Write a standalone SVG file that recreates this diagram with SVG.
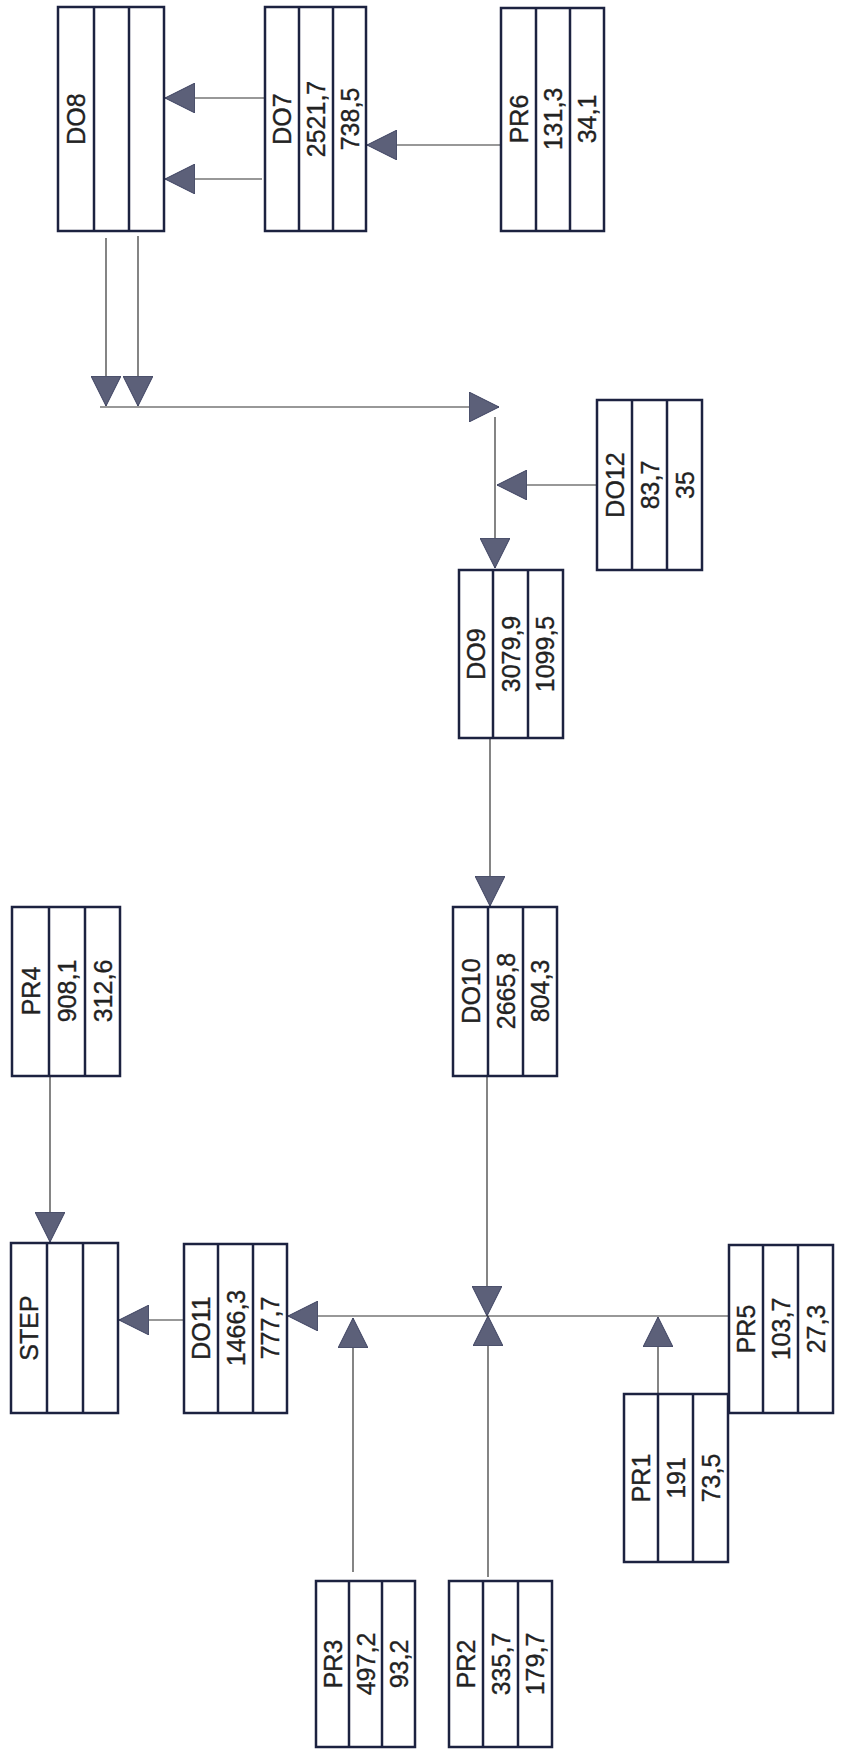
<svg xmlns="http://www.w3.org/2000/svg" width="842" height="1758" viewBox="0 0 842 1758">
<defs>
<marker id="ah" markerUnits="userSpaceOnUse" markerWidth="30" markerHeight="30" viewBox="0 0 30 30" refX="30" refY="15" orient="auto">
<path d="M0,0 L30,15 L0,30 Z" fill="#5c6079" stroke="#3d4260" stroke-width="1"/>
</marker>
</defs>
<style>
.box{fill:#fff;stroke:#1c2240;stroke-width:2.5}
.div{stroke:#1c2240;stroke-width:2.5}
.t{font-family:"Liberation Sans",Arial,sans-serif;font-size:25px;fill:#222;stroke:#222;stroke-width:0.35;text-anchor:middle}
.c{fill:none;stroke:#333;stroke-width:1.2;marker-end:url(#ah)}
</style>
<rect width="842" height="1758" fill="#fff"/>
<g id="connectors">
<line class="c" x1="265" y1="98" x2="165" y2="98"/>
<line class="c" x1="262" y1="179" x2="165" y2="179"/>
<line class="c" x1="501" y1="145" x2="367" y2="145"/>
<line class="c" x1="106" y1="238" x2="106" y2="406"/>
<line class="c" x1="138" y1="236" x2="138" y2="406"/>
<line class="c" x1="100" y1="407" x2="499" y2="407"/>
<line class="c" x1="495" y1="417" x2="495" y2="568"/>
<line class="c" x1="597" y1="485" x2="497" y2="485"/>
<line class="c" x1="490" y1="738" x2="490" y2="906"/>
<line class="c" x1="487" y1="1076" x2="487" y2="1316"/>
<line class="c" x1="488" y1="1577" x2="488" y2="1316"/>
<line class="c" x1="353" y1="1572" x2="353" y2="1318"/>
<line class="c" x1="658" y1="1394" x2="658" y2="1317"/>
<line class="c" x1="728" y1="1316" x2="288" y2="1316"/>
<line class="c" x1="184" y1="1320" x2="119" y2="1320"/>
<line class="c" x1="50" y1="1076" x2="50" y2="1242"/>
</g>
<g id="DO8">
<rect class="box" x="58" y="7" width="106" height="224"/>
<line class="div" x1="94" y1="7" x2="94" y2="231"/><line class="div" x1="129" y1="7" x2="129" y2="231"/>
<text class="t" transform="translate(85,119) rotate(-90)">DO8</text>
</g>
<g id="DO7">
<rect class="box" x="265" y="7" width="101" height="224"/>
<line class="div" x1="299" y1="7" x2="299" y2="231"/><line class="div" x1="333" y1="7" x2="333" y2="231"/>
<text class="t" transform="translate(291,119) rotate(-90)">DO7</text>
<text class="t" transform="translate(325,119) rotate(-90)">2521,7</text>
<text class="t" transform="translate(358.5,119) rotate(-90)">738,5</text>
</g>
<g id="PR6">
<rect class="box" x="501" y="8" width="103" height="223"/>
<line class="div" x1="536" y1="8" x2="536" y2="231"/><line class="div" x1="570" y1="8" x2="570" y2="231"/>
<text class="t" transform="translate(527.5,119) rotate(-90)">PR6</text>
<text class="t" transform="translate(562,119) rotate(-90)">131,3</text>
<text class="t" transform="translate(596,119) rotate(-90)">34,1</text>
</g>
<g id="DO12">
<rect class="box" x="597" y="400" width="105" height="170"/>
<line class="div" x1="632" y1="400" x2="632" y2="570"/><line class="div" x1="667" y1="400" x2="667" y2="570"/>
<text class="t" transform="translate(623.5,485) rotate(-90)">DO12</text>
<text class="t" transform="translate(658.5,485) rotate(-90)">83,7</text>
<text class="t" transform="translate(693.5,485) rotate(-90)">35</text>
</g>
<g id="DO9">
<rect class="box" x="459" y="570" width="104" height="168"/>
<line class="div" x1="493" y1="570" x2="493" y2="738"/><line class="div" x1="528" y1="570" x2="528" y2="738"/>
<text class="t" transform="translate(485,654) rotate(-90)">DO9</text>
<text class="t" transform="translate(519.5,654) rotate(-90)">3079,9</text>
<text class="t" transform="translate(554,654) rotate(-90)">1099,5</text>
</g>
<g id="DO10">
<rect class="box" x="453" y="907" width="104" height="169"/>
<line class="div" x1="488" y1="907" x2="488" y2="1076"/><line class="div" x1="523" y1="907" x2="523" y2="1076"/>
<text class="t" transform="translate(479.5,991) rotate(-90)">DO10</text>
<text class="t" transform="translate(514.5,991) rotate(-90)">2665,8</text>
<text class="t" transform="translate(549,991) rotate(-90)">804,3</text>
</g>
<g id="PR4">
<rect class="box" x="12" y="907" width="108" height="169"/>
<line class="div" x1="49" y1="907" x2="49" y2="1076"/><line class="div" x1="85" y1="907" x2="85" y2="1076"/>
<text class="t" transform="translate(39.5,991) rotate(-90)">PR4</text>
<text class="t" transform="translate(76,991) rotate(-90)">908,1</text>
<text class="t" transform="translate(111.5,991) rotate(-90)">312,6</text>
</g>
<g id="STEP">
<rect class="box" x="11" y="1243" width="107" height="170"/>
<line class="div" x1="47" y1="1243" x2="47" y2="1413"/><line class="div" x1="83" y1="1243" x2="83" y2="1413"/>
<text class="t" transform="translate(38,1328) rotate(-90)">STEP</text>
</g>
<g id="DO11">
<rect class="box" x="184" y="1244" width="103" height="169"/>
<line class="div" x1="218" y1="1244" x2="218" y2="1413"/><line class="div" x1="253" y1="1244" x2="253" y2="1413"/>
<text class="t" transform="translate(210,1328) rotate(-90)">DO11</text>
<text class="t" transform="translate(244.5,1328) rotate(-90)">1466,3</text>
<text class="t" transform="translate(279,1328) rotate(-90)">777,7</text>
</g>
<g id="PR5">
<rect class="box" x="729" y="1245" width="104" height="168"/>
<line class="div" x1="763" y1="1245" x2="763" y2="1413"/><line class="div" x1="798" y1="1245" x2="798" y2="1413"/>
<text class="t" transform="translate(755,1329) rotate(-90)">PR5</text>
<text class="t" transform="translate(789.5,1329) rotate(-90)">103,7</text>
<text class="t" transform="translate(824.5,1329) rotate(-90)">27,3</text>
</g>
<g id="PR1">
<rect class="box" x="624" y="1394" width="104" height="168"/>
<line class="div" x1="658" y1="1394" x2="658" y2="1562"/><line class="div" x1="693" y1="1394" x2="693" y2="1562"/>
<text class="t" transform="translate(650,1478) rotate(-90)">PR1</text>
<text class="t" transform="translate(684.5,1478) rotate(-90)">191</text>
<text class="t" transform="translate(719.5,1478) rotate(-90)">73,5</text>
</g>
<g id="PR3">
<rect class="box" x="316" y="1581" width="99" height="166"/>
<line class="div" x1="349" y1="1581" x2="349" y2="1747"/><line class="div" x1="382" y1="1581" x2="382" y2="1747"/>
<text class="t" transform="translate(341.5,1664) rotate(-90)">PR3</text>
<text class="t" transform="translate(374.5,1664) rotate(-90)">497,2</text>
<text class="t" transform="translate(407.5,1664) rotate(-90)">93,2</text>
</g>
<g id="PR2">
<rect class="box" x="449" y="1581" width="103" height="166"/>
<line class="div" x1="483" y1="1581" x2="483" y2="1747"/><line class="div" x1="518" y1="1581" x2="518" y2="1747"/>
<text class="t" transform="translate(475,1664) rotate(-90)">PR2</text>
<text class="t" transform="translate(509.5,1664) rotate(-90)">335,7</text>
<text class="t" transform="translate(544,1664) rotate(-90)">179,7</text>
</g>
</svg>
